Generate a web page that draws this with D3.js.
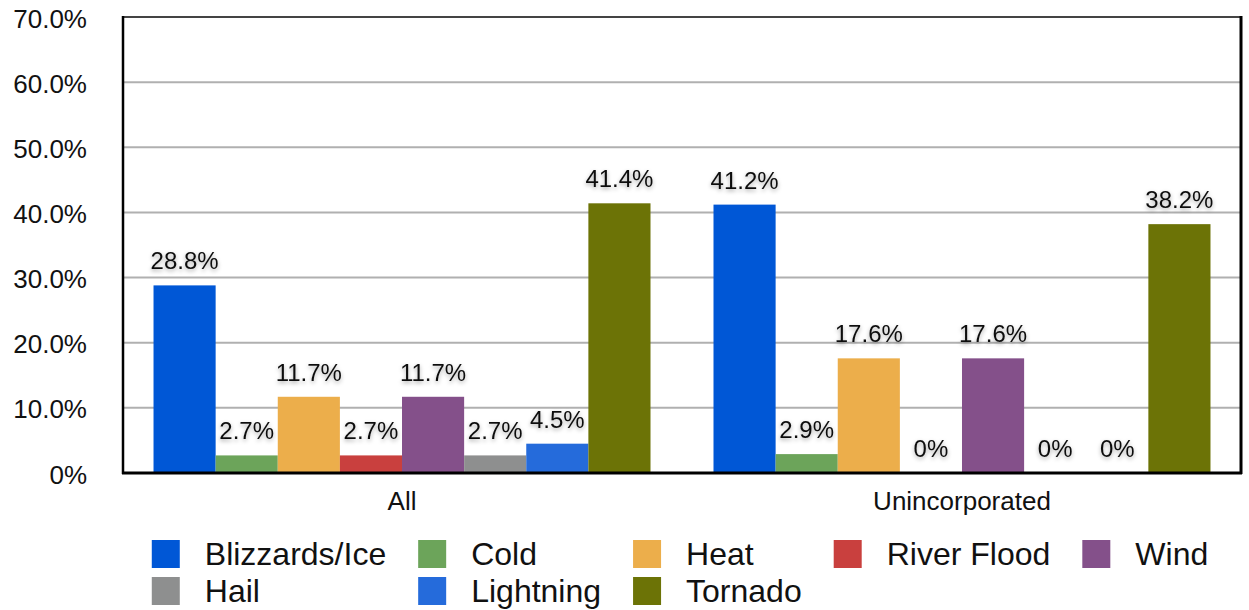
<!DOCTYPE html>
<html>
<head>
<meta charset="utf-8">
<script src="https://cdn.jsdelivr.net/npm/d3@7"></script>
<style>
  html, body { margin: 0; padding: 0; background: #fff; }
  svg { display: block; font-family: "Liberation Sans", Arial, Helvetica, sans-serif; }
</style>
</head>
<body>
<svg id="chart" width="1249" height="610"></svg>
<script>
const categories = ["All", "Unincorporated"];
const seriesNames = ["Blizzards/Ice", "Cold", "Heat", "River Flood", "Wind", "Hail", "Lightning", "Tornado"];
const valuesAll = [28.8, 2.7, 11.7, 2.7, 11.7, 2.7, 4.5, 41.4];
const valuesUnincorporated = [41.2, 2.9, 17.6, 0, 17.6, 0, 0, 38.2];
const seriesColors = ["#0057d6", "#6ca45a", "#ecae4b", "#c9403e", "#84508a", "#8e8f8f", "#256bdb", "#6c7306"];
const yTicks = [0, 10, 20, 30, 40, 50, 60, 70];
const legendRows = [["Blizzards/Ice", "Cold", "Heat", "River Flood", "Wind"], ["Hail", "Lightning", "Tornado"]];

const valuesByCategory = [valuesAll, valuesUnincorporated];
const svg = d3.select("#chart");
const plotL = 123, plotR = 1241, plotT = 17, plotB = 473;

const defs = svg.append("defs");
const f = defs.append("filter").attr("id", "shadow").attr("x", "-20%").attr("y", "-40%").attr("width", "140%").attr("height", "180%");
f.append("feDropShadow").attr("dx", 0).attr("dy", 2).attr("stdDeviation", 2).attr("flood-color", "#000").attr("flood-opacity", 0.35);

const y = d3.scaleLinear().domain([0, 70]).range([plotB, plotT]);
const x0 = d3.scaleBand().domain(categories).range([plotL, plotR]).paddingInner(0.1125).paddingOuter(0.0545);
const x1 = d3.scaleBand().domain(seriesNames).range([0, x0.bandwidth()]).padding(0);
const color = d3.scaleOrdinal().domain(seriesNames).range(seriesColors);

// gridlines
svg.append("g").selectAll("line").data(yTicks.filter(t => t > 0 && t < 70)).join("line")
  .attr("x1", plotL).attr("x2", plotR)
  .attr("y1", d => y(d)).attr("y2", d => y(d))
  .attr("stroke", "#b0b0b0").attr("stroke-width", 2);

// y axis labels
const yAxis = d3.axisLeft(y).tickValues(yTicks).tickSize(0).tickPadding(0)
  .tickFormat(d => d === 0 ? "0%" : d.toFixed(1) + "%");
const gy = svg.append("g").attr("transform", `translate(${plotL - 36},0)`).call(yAxis);
gy.select(".domain").remove();
gy.selectAll("text").attr("font-size", 26).attr("fill", "#111").attr("dy", null)
  .attr("font-family", "'Liberation Sans', Arial, sans-serif")
  .attr("y", 10);

// bars
const groups = svg.append("g").selectAll("g").data(categories).join("g")
  .attr("transform", d => `translate(${x0(d)},0)`);
groups.selectAll("rect").data((c, i) => seriesNames.map((s, j) => ({ s, v: valuesByCategory[i][j] }))).join("rect")
  .attr("x", d => x1(d.s)).attr("width", x1.bandwidth())
  .attr("y", d => y(d.v)).attr("height", d => y(0) - y(d.v))
  .attr("fill", d => color(d.s));

// value labels
groups.selectAll("text").data((c, i) => seriesNames.map((s, j) => ({ s, v: valuesByCategory[i][j] }))).join("text")
  .attr("x", d => x1(d.s) + x1.bandwidth() / 2)
  .attr("y", d => y(d.v) - 16)
  .attr("text-anchor", "middle").attr("font-size", 24).attr("fill", "#111")
  .attr("filter", "url(#shadow)")
  .text(d => d.v === 0 ? "0%" : d.v.toFixed(1) + "%");

// frame
svg.append("line").attr("x1", plotL).attr("x2", plotR).attr("y1", plotT).attr("y2", plotT).attr("stroke", "#444").attr("stroke-width", 2);
svg.append("line").attr("x1", plotR).attr("x2", plotR).attr("y1", plotT - 1).attr("y2", plotB + 1).attr("stroke", "#000").attr("stroke-width", 3);
svg.append("line").attr("x1", plotL).attr("x2", plotL).attr("y1", plotT - 1).attr("y2", plotB + 1).attr("stroke", "#000").attr("stroke-width", 2.5);
svg.append("line").attr("x1", plotL - 1).attr("x2", plotR + 1).attr("y1", plotB).attr("y2", plotB).attr("stroke", "#000").attr("stroke-width", 3);

// x axis category labels
const xAxis = d3.axisBottom(x0).tickSize(0).tickPadding(0);
const gx = svg.append("g").attr("transform", `translate(0,${plotB})`).call(xAxis);
gx.select(".domain").remove();
gx.selectAll("text").attr("font-size", 26).attr("fill", "#111").attr("dy", null).attr("y", 37)
  .attr("font-family", "'Liberation Sans', Arial, sans-serif");

// legend (grid layout)
const lg = svg.append("g");
const swatch = 28, gapText = 25, colGap = 32, rowY = [554, 591];
const nCols = d3.max(legendRows, r => r.length);
const meas = svg.append("text").attr("font-size", 32).attr("visibility", "hidden");
const colW = d3.range(nCols).map(c => d3.max(legendRows, r => {
  if (c >= r.length) return 0;
  meas.text(r[c]);
  return meas.node().getComputedTextLength();
}));
meas.remove();
const colX = [];
let acc = 0;
colW.forEach((w, i) => { colX.push(acc); acc += swatch + gapText + w + (i < nCols - 1 ? colGap : 0); });
const startX = (plotL + plotR) / 2 - acc / 2 - 2;
legendRows.forEach((row, ri) => {
  row.forEach((name, ci) => {
    const gx0 = startX + colX[ci];
    lg.append("rect").attr("x", gx0).attr("y", rowY[ri] - swatch / 2).attr("width", swatch).attr("height", swatch).attr("fill", color(name));
    lg.append("text").attr("x", gx0 + swatch + gapText).attr("y", rowY[ri] + 11)
      .attr("font-size", 32).attr("fill", "#111").text(name);
  });
});
</script>
</body>
</html>
